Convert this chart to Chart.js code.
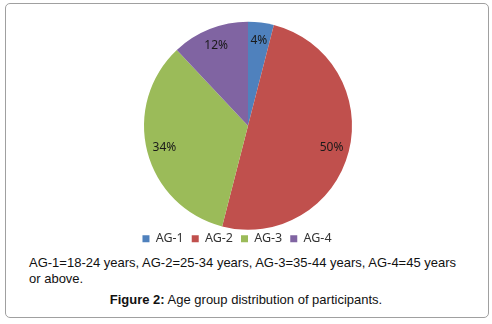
<!DOCTYPE html>
<html>
<head>
<meta charset="utf-8">
<script src="https://cdn.jsdelivr.net/npm/chart.js@4"></script>
<style>
  body { margin: 0; background: #fff; }
  #frame {
    position: absolute; left: 5px; top: 3px; width: 482px; height: 313px;
    border: 1px solid #a0a0a0; border-radius: 5px;
  }
  #wrap { position: absolute; left: 0; top: 0; width: 492px; height: 255px; }
  #note {
    position: absolute; left: 29px; top: 255px; width: 440px;
    font: 13px "Liberation Sans", Arial, sans-serif; line-height: 16px; color: #111;
  }
  #caption {
    position: absolute; left: 0; top: 292px; width: 492px; text-align: center;
    font: 13px "Liberation Sans", Arial, sans-serif; color: #111;
  }
</style>
</head>
<body>
<div id="frame"></div>
<div id="wrap"><canvas id="myChart"></canvas></div>
<div id="note">AG-1=18-24 years, AG-2=25-34 years, AG-3=35-44 years, AG-4=45 years or above.</div>
<div id="caption"><b>Figure 2:</b> Age group distribution of participants.</div>
<script>
const ctx = document.querySelector('#myChart').getContext('2d');

const labels = ['AG-1', 'AG-2', 'AG-3', 'AG-4'];
const shares = [4, 50, 34, 12];
const colors = ['#4F81BD', '#C0504D', '#9BBB59', '#8064A2'];

// percent labels inside the slices, like Excel does
const sliceLabels = {
    id: 'sliceLabels',
    afterDatasetsDraw(chart) {
        const c = chart.ctx;
        const meta = chart.getDatasetMeta(0);
        c.save();
        c.font = '12px "Noto Sans", sans-serif';
        c.fillStyle = '#1a1a1a';
        c.textAlign = 'center';
        c.textBaseline = 'middle';
        meta.data.forEach((arc, i) => {
            const mid = (arc.startAngle + arc.endAngle) / 2;
            const r = arc.outerRadius * 0.83;
            c.fillText(shares[i] + '%', arc.x + Math.cos(mid) * r, arc.y + Math.sin(mid) * r);
        });
        c.restore();
    }
};

// excel put the legend a bit left of the pie centre
const legendNudge = {
    id: 'legendNudge',
    afterLayout(chart) {
        chart.legend.left -= 11;
        chart.legend.right -= 11;
    }
};

const myChart = new Chart(ctx, {
    type: 'pie',
    data: {
        labels,
        datasets: [{
            data: shares,
            backgroundColor: colors,
            borderWidth: 0,
            radius: 104,
        }],
    },
    options: {
        responsive: true,
        maintainAspectRatio: false,
        animation: false,
        layout: { padding: { top: 27, left: 4 } },
        plugins: {
            tooltip: { enabled: false },
            legend: {
                position: 'bottom',
                labels: {
                    boxWidth: 7,
                    boxHeight: 7,
                    padding: 8,
                    color: '#333',
                    font: { family: 'Noto Sans', size: 12.5 },
                },
            },
        },
    },
    plugins: [sliceLabels, legendNudge],
});
</script>
</body>
</html>
